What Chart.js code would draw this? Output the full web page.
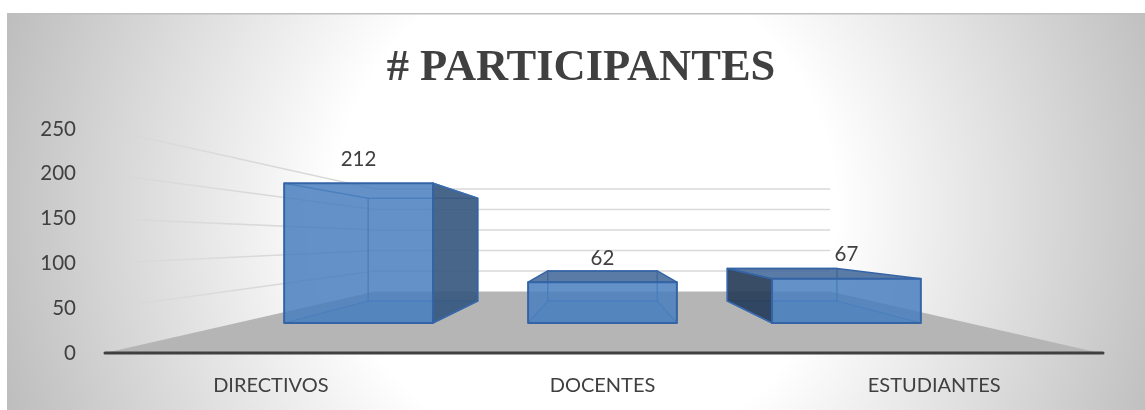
<!DOCTYPE html>
<html><head><meta charset="utf-8">
<style>html,body{margin:0;padding:0;background:#fff}canvas{display:block}</style>
<script src="https://cdn.jsdelivr.net/npm/chart.js@4"></script>
</head><body>
<canvas id="c" width="1145" height="410"></canvas>
<script>
const categories = ["DIRECTIVOS", "DOCENTES", "ESTUDIANTES"];
const participants = [212, 62, 67];
const chartTitle = "# PARTICIPANTES";
const yMax = 250, yStep = 50;

const VANISH_Y = 239.6, F_FRONT = 0.7355, F_BACK = 0.5415, F_WALL = 0.4576;

function project(chart, x, y, f) {
  const a = chart.chartArea, vx = (a.left + a.right) / 2;
  return [vx + (x - vx) * f, VANISH_Y + (y - VANISH_Y) * f];
}
function poly(ctx, pts, fill, stroke, lw) {
  ctx.beginPath();
  pts.forEach((p, i) => i ? ctx.lineTo(p[0], p[1]) : ctx.moveTo(p[0], p[1]));
  ctx.closePath();
  if (fill) { ctx.fillStyle = fill; ctx.fill(); }
  if (stroke) { ctx.strokeStyle = stroke; ctx.lineWidth = lw || 1; ctx.lineJoin = "round"; ctx.stroke(); }
}

const scene = {
  id: "scene",
  afterLayout(chart) {
    // the title is centred on the panel, not on the plot
    if (chart.titleBlock) { chart.titleBlock.left = 17; chart.titleBlock.right = 1145; }
  },
  beforeDraw(chart) {
    const ctx = chart.ctx, W = chart.width, H = chart.height;
    ctx.save();
    const g = ctx.createRadialGradient(585, 210, 0, 585, 210, 612);
    g.addColorStop(0, "#ffffff");
    g.addColorStop(0.41, "#ffffff");
    g.addColorStop(1, "#bdbdbd");
    ctx.fillStyle = g;
    ctx.fillRect(7, 13, W - 7, H - 13);
    ctx.fillStyle = "#bfbfbf";
    ctx.fillRect(7, 13, W - 7, 1.5);
    ctx.restore();
  },
  beforeDatasetsDraw(chart) {
    const ctx = chart.ctx, a = chart.chartArea, ys = chart.scales.y;
    ctx.save();
    // floor
    poly(ctx, [project(chart, a.left, a.bottom, 1), project(chart, a.right, a.bottom, 1),
               project(chart, a.right, a.bottom, F_WALL), project(chart, a.left, a.bottom, F_WALL)], "#b5b5b5");
    // wall grid lines, one per axis tick
    ys.ticks.forEach(t => {
      const py = ys.getPixelForValue(t.value);
      const p0 = project(chart, a.left, py, 0.985);
      const p1 = project(chart, a.left, py, F_WALL);
      const p2 = project(chart, a.right, py, F_WALL);
      if (t.value !== 0) {
        const g = ctx.createLinearGradient(p0[0], 0, p1[0], 0);
        g.addColorStop(0, "rgba(217,217,217,0)");
        g.addColorStop(0.1, "rgba(214,214,214,0.5)");
        g.addColorStop(0.5, "rgba(217,217,217,1)");
        ctx.strokeStyle = g;
        ctx.lineWidth = 1.6;
        ctx.beginPath(); ctx.moveTo(p0[0], p0[1]); ctx.lineTo(p1[0], p1[1]); ctx.stroke();
        ctx.strokeStyle = "#d9d9d9";
        ctx.beginPath(); ctx.moveTo(p1[0], p1[1]); ctx.lineTo(p2[0], p2[1]); ctx.stroke();
      }
    });
    // axis line
    ctx.strokeStyle = "#404040"; ctx.lineWidth = 3; ctx.lineCap = "round";
    ctx.beginPath(); ctx.moveTo(a.left, a.bottom); ctx.lineTo(a.right + 3, a.bottom); ctx.stroke();
    ctx.restore();
  },
  beforeDatasetDraw(chart, args) {
    const ctx = chart.ctx, a = chart.chartArea, vx = (a.left + a.right) / 2;
    const edge = "rgb(52,100,165)", inner = "rgba(60,110,175,0.85)";
    ctx.save();
    args.meta.data.forEach((bar, i) => {
      const l = bar.x - bar.width / 2, r = bar.x + bar.width / 2, t = bar.y, b = bar.base;
      const P = (x, y, f) => project(chart, x, y, f);
      const ftl = P(l, t, F_FRONT), ftr = P(r, t, F_FRONT), fbl = P(l, b, F_FRONT), fbr = P(r, b, F_FRONT);
      const btl = P(l, t, F_BACK), btr = P(r, t, F_BACK), bbl = P(l, b, F_BACK), bbr = P(r, b, F_BACK);
      // floor of the box
      poly(ctx, [fbl, fbr, bbr, bbl], "rgba(73,127,190,0.25)");
      // back edges seen through the box
      poly(ctx, [btl, btr, bbr, bbl], null, inner, 1.5);
      // side and top faces
      if (r < vx) poly(ctx, [ftr, btr, bbr, fbr], "rgba(56,89,128,0.92)", edge, 1.5);
      if (l > vx) poly(ctx, [ftl, btl, bbl, fbl], "rgba(40,62,90,0.92)", edge, 1.5);
      if (t > VANISH_Y) poly(ctx, [ftl, ftr, btr, btl], "rgba(60,100,150,0.85)", edge, 1.5);
      else {
        ctx.strokeStyle = inner; ctx.lineWidth = 1.5;
        ctx.beginPath(); ctx.moveTo(ftl[0], ftl[1]); ctx.lineTo(btl[0], btl[1]);
        ctx.moveTo(ftr[0], ftr[1]); ctx.lineTo(btr[0], btr[1]); ctx.stroke();
      }
      ctx.strokeStyle = inner; ctx.lineWidth = 1.2;
      ctx.beginPath(); ctx.moveTo(fbl[0], fbl[1]); ctx.lineTo(bbl[0], bbl[1]);
      ctx.moveTo(fbr[0], fbr[1]); ctx.lineTo(bbr[0], bbr[1]); ctx.stroke();
      // front face
      poly(ctx, [ftl, ftr, fbr, fbl], bar.options.backgroundColor, edge, 2);
      // value label
      ctx.fillStyle = "#404040";
      ctx.font = "20.5px Lato";
      ctx.textAlign = "center"; ctx.textBaseline = "middle";
      ctx.fillText(String(participants[i]), (ftl[0] + ftr[0]) / 2, ftl[1] - 24);
    });
    ctx.restore();
    return false;
  }
};

new Chart(document.getElementById("c"), {
  type: "bar",
  data: { labels: categories, datasets: [{ label: chartTitle, data: participants,
    backgroundColor: "rgba(73,127,190,0.85)", borderColor: "rgb(52,100,165)",
    barPercentage: 0.61, categoryPercentage: 1 }] },
  plugins: [scene],
  options: {
    responsive: false, animation: false,
    layout: { padding: { left: 0, right: 45, top: 0, bottom: 0 } },
    plugins: {
      legend: { display: false }, tooltip: { enabled: false },
      title: { display: true, text: chartTitle, color: "#404040",
        font: { family: "Liberation Serif", size: 44.5, weight: "bold", lineHeight: 1.2 },
        padding: { top: 42, bottom: 33.6 } }
    },
    scales: {
      y: { min: 0, max: yMax, afterFit(s) { s.width = 105; },
        ticks: { stepSize: yStep, color: "#404040", padding: 21, font: { family: "Lato", size: 20.5 } },
        grid: { display: false }, border: { display: false } },
      x: { afterFit(s) { s.height = 57; },
        ticks: { color: "#404040", padding: 13, maxRotation: 0, font: { family: "Lato", size: 20 } },
        grid: { display: false }, border: { display: false } }
    }
  }
});
</script>
</body></html>
